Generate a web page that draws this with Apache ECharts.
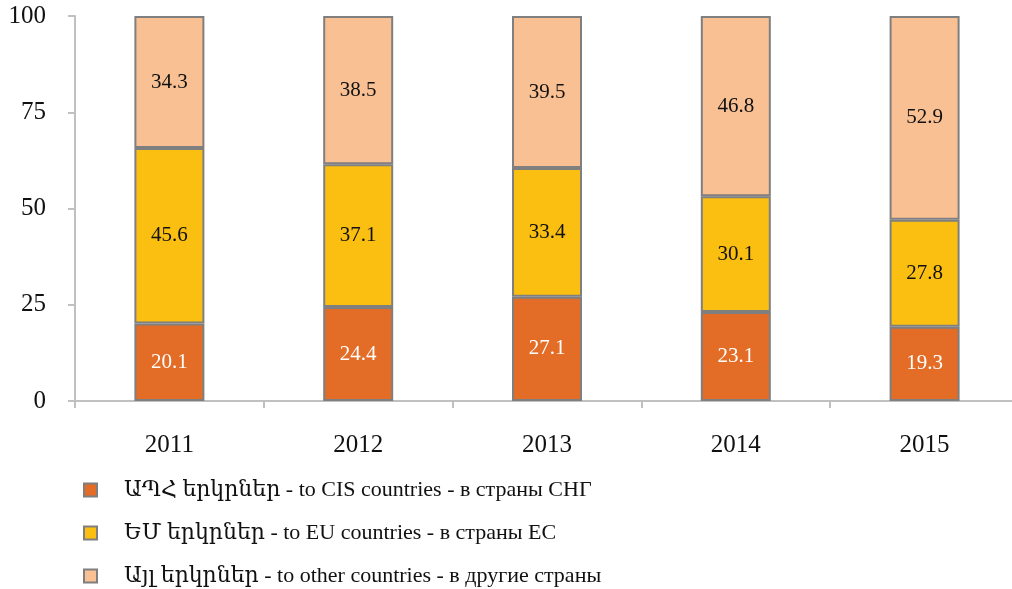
<!DOCTYPE html>
<html>
<head>
<meta charset="utf-8">
<script src="https://cdn.jsdelivr.net/npm/echarts@6/dist/echarts.min.js"></script>
<style>
  html, body { margin: 0; padding: 0; background: #fff; }
  #chart { width: 1012px; height: 589px; }
</style>
</head>
<body>
<div id="chart"></div>
<script>
// years and shares (%)
const years = ['2011', '2012', '2013', '2014', '2015'];
const cisValues = [20.1, 24.4, 27.1, 23.1, 19.3];
const euValues = [45.6, 37.1, 33.4, 30.1, 27.8];
const otherValues = [34.3, 38.5, 39.5, 46.8, 52.9];
const seriesNames = [
  'ԱՊՀ երկրներ - to CIS countries - в страны СНГ',
  'ԵՄ երկրներ - to EU countries - в страны ЕС',
  'Այլ երկրներ - to other countries - в другие страны'
];
const yTicks = [0, 25, 50, 75, 100];

const serif = '"Liberation Serif", "DejaVu Serif", serif';
const chart = echarts.init(document.getElementById('chart'));

function barSeries(name, data, color, labelColor) {
  return {
    name: name,
    type: 'bar',
    stack: 'total',
    barWidth: 70,
    data: data,
    itemStyle: { color: color, borderColor: '#7f7f7f', borderWidth: 2 },
    label: {
      show: true,
      position: 'inside',
      color: labelColor,
      fontFamily: serif,
      fontSize: 21,
      formatter: p => p.value.toFixed(1)
    },
    emphasis: { disabled: true }
  };
}

const option = {
  animation: false,
  backgroundColor: '#fff',
  grid: { left: 75, right: -7, top: 16, bottom: 188, outerBoundsMode: 'none', containLabel: false },
  legend: {
    orient: 'vertical',
    left: 83,
    top: 479,
    height: 130,
    width: 700,
    padding: 0,
    itemWidth: 13,
    itemHeight: 13,
    itemGap: 21,
    icon: 'rect',
    data: seriesNames,
    textStyle: { fontFamily: serif, fontSize: 22, color: '#111', lineHeight: 22, padding: [0, 0, 0, 22] }
  },
  xAxis: {
    type: 'category',
    data: years,
    axisLine: { lineStyle: { color: '#c0c0c0', width: 2 } },
    axisTick: { show: true, length: 7, lineStyle: { color: '#c0c0c0', width: 2 } },
    axisLabel: { margin: 32, fontFamily: serif, fontSize: 25, color: '#111' }
  },
  yAxis: {
    type: 'value',
    min: yTicks[0],
    max: yTicks[yTicks.length - 1],
    interval: 25,
    splitLine: { show: false },
    axisLine: { show: true, lineStyle: { color: '#c0c0c0', width: 2 } },
    axisTick: { show: true, length: 7, lineStyle: { color: '#c0c0c0', width: 2 } },
    axisLabel: { margin: 29, fontFamily: serif, fontSize: 25, color: '#111' }
  },
  series: [
    barSeries(seriesNames[0], cisValues, '#e36c26', '#fff'),
    barSeries(seriesNames[1], euValues, '#fbbf12', '#111'),
    barSeries(seriesNames[2], otherValues, '#f9c093', '#111')
  ]
};

chart.setOption(option);
</script>
</body>
</html>
